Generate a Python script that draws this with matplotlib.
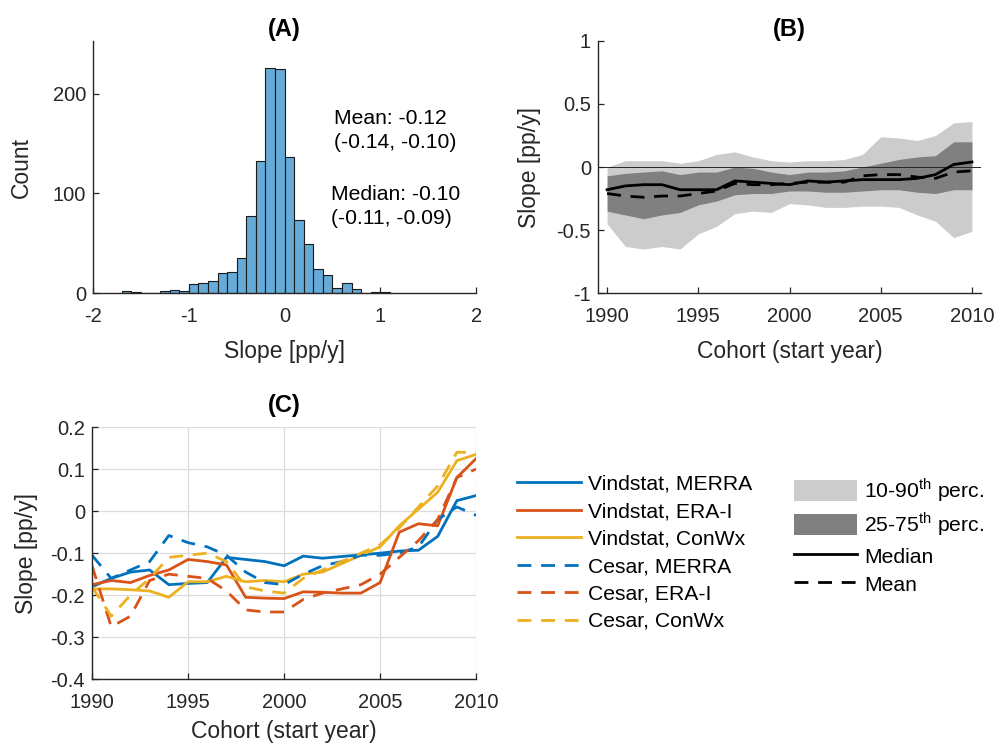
import numpy as np
import matplotlib
matplotlib.use("Agg")
import matplotlib.pyplot as plt
from matplotlib.lines import Line2D
from matplotlib.patches import Patch
from matplotlib.ticker import FuncFormatter

plt.rcParams['font.family'] = ['Liberation Sans', 'DejaVu Sans']
plt.rcParams['mathtext.fontset'] = 'custom'
plt.rcParams['mathtext.rm'] = 'Liberation Sans'
plt.rcParams['axes.unicode_minus'] = False

# ---- panel A: histogram of slopes ----
bin_left = [-1.7, -1.6, -1.5, -1.4, -1.3, -1.2, -1.1, -1.0, -0.9, -0.8, -0.7, -0.6,
            -0.5, -0.4, -0.3, -0.2, -0.1, 0.0, 0.1, 0.2, 0.3, 0.4, 0.5, 0.6, 0.7,
            0.8, 0.9, 1.0]
counts = [2, 1, 0, 0, 2, 3, 2, 9, 10, 12, 20, 21, 35, 77, 133, 226, 225, 137,
          73, 49, 24, 18, 5, 10, 4, 0, 1, 1]
mean_txt = "Mean: -0.12\n(-0.14, -0.10)"
median_txt = "Median: -0.10\n(-0.11, -0.09)"

# ---- panel B: cohort percentiles ----
years = list(range(1990, 2011))
p90 = [0.00, 0.05, 0.05, 0.05, 0.03, 0.05, 0.10, 0.12, 0.08, 0.05, 0.04, 0.05,
       0.05, 0.06, 0.10, 0.24, 0.23, 0.21, 0.25, 0.35, 0.36]
p10 = [-0.45, -0.63, -0.65, -0.63, -0.65, -0.53, -0.47, -0.37, -0.35, -0.36, -0.29,
       -0.30, -0.32, -0.32, -0.31, -0.31, -0.32, -0.38, -0.43, -0.56, -0.51]
p75 = [-0.07, -0.05, -0.04, -0.03, -0.06, -0.04, -0.04, 0.00, -0.01, -0.04, -0.06,
       -0.04, -0.04, -0.03, 0.00, 0.03, 0.06, 0.08, 0.09, 0.20, 0.20]
p25 = [-0.35, -0.38, -0.41, -0.38, -0.36, -0.30, -0.27, -0.22, -0.21, -0.21, -0.19,
       -0.19, -0.20, -0.20, -0.19, -0.18, -0.18, -0.20, -0.21, -0.18, -0.18]
median_b = [-0.18, -0.15, -0.14, -0.14, -0.18, -0.18, -0.18, -0.11, -0.12, -0.13, -0.14,
            -0.11, -0.12, -0.11, -0.10, -0.10, -0.10, -0.09, -0.06, 0.02, 0.04]
mean_b = [-0.21, -0.23, -0.24, -0.23, -0.23, -0.21, -0.19, -0.13, -0.14, -0.14, -0.13,
          -0.12, -0.12, -0.12, -0.07, -0.06, -0.06, -0.08, -0.09, -0.04, -0.03]

# ---- panel C: per data set ----
vind_merra = [-0.18, -0.16, -0.145, -0.14, -0.175, -0.172, -0.17, -0.11, -0.115, -0.12, -0.13,
              -0.107, -0.112, -0.108, -0.104, -0.10, -0.095, -0.093, -0.06, 0.025, 0.037]
vind_era = [-0.175, -0.165, -0.17, -0.153, -0.14, -0.115, -0.12, -0.128, -0.205, -0.207, -0.208,
            -0.192, -0.193, -0.195, -0.195, -0.17, -0.05, -0.03, -0.035, 0.08, 0.125]
vind_conwx = [-0.185, -0.185, -0.187, -0.19, -0.205, -0.168, -0.168, -0.155, -0.168, -0.165, -0.168,
              -0.15, -0.145, -0.125, -0.105, -0.085, -0.035, 0.005, 0.045, 0.12, 0.135]
cesar_merra = [-0.105, -0.16, -0.14, -0.12, -0.058, -0.075, -0.085, -0.105, -0.145, -0.17, -0.175,
               -0.15, -0.13, -0.12, -0.105, -0.105, -0.10, -0.085, -0.02, 0.01, -0.01]
cesar_era = [-0.13, -0.275, -0.25, -0.165, -0.15, -0.155, -0.16, -0.19, -0.235, -0.24, -0.24,
             -0.21, -0.195, -0.185, -0.175, -0.15, -0.11, -0.07, -0.02, 0.08, 0.10]
cesar_conwx = [-0.18, -0.25, -0.20, -0.16, -0.11, -0.105, -0.10, -0.12, -0.18, -0.19, -0.195,
               -0.16, -0.14, -0.12, -0.10, -0.08, -0.04, 0.01, 0.06, 0.14, 0.14]
series_c = [vind_merra, vind_era, vind_conwx, cesar_merra, cesar_era, cesar_conwx]
labels_c = ["Vindstat, MERRA", "Vindstat, ERA-I", "Vindstat, ConWx",
            "Cesar, MERRA", "Cesar, ERA-I", "Cesar, ConWx"]

blue, red, yellow = "#0072BD", "#D95319", "#EDB120"
axcol = "#262626"
colors_c = [blue, red, yellow, blue, red, yellow]
styles_c = ["-", "-", "-", "--", "--", "--"]
DASH = (5, 3.5)
TICK_FS = 14.5
LABEL_FS = 16.5
TITLE_FS = 17
LEG_FS = 15.2


def num_fmt(v, pos):
    return "%g" % round(v, 3)


def style_axes(ax):
    for side in ["top", "right"]:
        ax.spines[side].set_visible(False)
    for side in ["left", "bottom"]:
        ax.spines[side].set_color(axcol)
        ax.spines[side].set_linewidth(1.0)
    ax.tick_params(direction="in", length=4, width=0.9, colors=axcol,
                   labelsize=TICK_FS, labelcolor=axcol)
    ax.tick_params(axis="x", pad=10)
    ax.tick_params(axis="y", pad=5)


fig = plt.figure(figsize=(9.95, 7.44), dpi=100)

# (A)
axA = fig.add_axes([0.0935, 0.606, 0.385, 0.339])
axA.bar(bin_left, counts, width=0.1, align="edge", color="#66AAD7",
        edgecolor="#1a1a1a", linewidth=0.8)
axA.set_xlim(-2, 2)
axA.set_ylim(0, 253)
axA.set_xticks([-2, -1, 0, 1, 2])
axA.set_yticks([0, 100, 200])
axA.xaxis.set_major_formatter(FuncFormatter(num_fmt))
style_axes(axA)
axA.set_xlabel("Slope [pp/y]", fontsize=LABEL_FS, color=axcol, labelpad=10)
axA.set_ylabel("Count", fontsize=LABEL_FS, color=axcol, labelpad=14)
axA.set_title("(A)", fontsize=TITLE_FS, fontweight="bold", color="black", pad=2)
axA.text(0.63, 0.645, mean_txt, transform=axA.transAxes, fontsize=LEG_FS,
         color="black", va="center", ha="left", linespacing=1.3)
axA.text(0.62, 0.343, median_txt, transform=axA.transAxes, fontsize=LEG_FS,
         color="black", va="center", ha="left", linespacing=1.3)

# (B)
axB = fig.add_axes([0.601, 0.606, 0.385, 0.339])
axB.fill_between(years, p10, p90, color="#CCCCCC", linewidth=0)
axB.fill_between(years, p25, p75, color="#808080", linewidth=0)
axB.axhline(0, color=axcol, linewidth=0.7)
axB.plot(years, median_b, color="black", linewidth=2.0)
axB.plot(years, mean_b, color="black", linewidth=2.0, dashes=DASH)
axB.set_xlim(1989.5, 2010.5)
axB.set_ylim(-1, 1)
axB.set_xticks([1990, 1995, 2000, 2005, 2010])
axB.set_yticks([-1, -0.5, 0, 0.5, 1])
axB.yaxis.set_major_formatter(FuncFormatter(num_fmt))
style_axes(axB)
axB.set_xlabel("Cohort (start year)", fontsize=LABEL_FS, color=axcol, labelpad=10)
axB.set_ylabel("Slope [pp/y]", fontsize=LABEL_FS, color=axcol, labelpad=11)
axB.set_title("(B)", fontsize=TITLE_FS, fontweight="bold", color="black", pad=2)

# (C)
axC = fig.add_axes([0.0925, 0.087, 0.386, 0.339])
handles_c = []
for vals, col, ls, lab in zip(series_c, colors_c, styles_c, labels_c):
    if ls == "--":
        h, = axC.plot(years, vals, color=col, linewidth=2.0, dashes=DASH, label=lab)
    else:
        h, = axC.plot(years, vals, color=col, linewidth=2.0, label=lab)
    handles_c.append(h)
axC.set_xlim(1990, 2010)
axC.set_ylim(-0.4, 0.2)
axC.set_xticks([1990, 1995, 2000, 2005, 2010])
axC.set_yticks([-0.4, -0.3, -0.2, -0.1, 0, 0.1, 0.2])
axC.yaxis.set_major_formatter(FuncFormatter(num_fmt))
axC.grid(True, color="#DCDCDC", linewidth=0.9)
axC.set_axisbelow(True)
style_axes(axC)
axC.set_xlabel("Cohort (start year)", fontsize=LABEL_FS, color=axcol, labelpad=6)
axC.set_ylabel("Slope [pp/y]", fontsize=LABEL_FS, color=axcol, labelpad=9)
axC.set_title("(C)", fontsize=TITLE_FS, fontweight="bold", color="black", pad=11)

fig.legend(handles=handles_c, loc="upper left", bbox_to_anchor=(0.52, 0.362),
           frameon=False, fontsize=LEG_FS, handlelength=3.0, handletextpad=0.33,
           labelspacing=0.4, borderaxespad=0, borderpad=0)

handles_b = [Patch(facecolor="#CCCCCC", edgecolor="none"),
             Patch(facecolor="#808080", edgecolor="none"),
             Line2D([], [], color="black", linewidth=2.0),
             Line2D([], [], color="black", linewidth=2.0, dashes=DASH)]
labels_b = ["10-90$^{\\mathrm{th}}$ perc.", "25-75$^{\\mathrm{th}}$ perc.",
            "Median", "Mean"]
fig.legend(handles=handles_b, labels=labels_b, loc="upper left",
           bbox_to_anchor=(0.798, 0.36), frameon=False, fontsize=LEG_FS,
           handlelength=3.0, handleheight=1.2, handletextpad=0.33,
           labelspacing=0.3, borderaxespad=0, borderpad=0)

fig.savefig("out.png", dpi=100)
